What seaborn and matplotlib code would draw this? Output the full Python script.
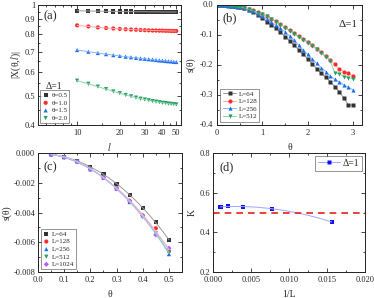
import numpy as np
import pandas as pd
import matplotlib
matplotlib.use("Agg")
import matplotlib.pyplot as plt
from matplotlib.ticker import FixedLocator, NullFormatter, FixedFormatter, MultipleLocator, FuncFormatter
from matplotlib.lines import Line2D
import seaborn as sns

sns.set_theme(style="ticks")
plt.rcParams['font.family'] = ['Liberation Serif', 'DejaVu Serif']
plt.rcParams['mathtext.fontset'] = 'stix'

# ---------------- data ----------------
# panel (a)
l_vals = [10, 12, 14, 16, 18, 20, 22, 24, 26, 28, 30, 32, 34, 36, 38, 40, 42, 44, 46, 48, 50]
x_t05 = [0.957, 0.955, 0.954, 0.953, 0.952, 0.952, 0.951, 0.951, 0.950, 0.950, 0.950,
         0.949, 0.949, 0.949, 0.949, 0.948, 0.948, 0.948, 0.948, 0.948, 0.948]
x_t10 = [0.856, 0.849, 0.843, 0.839, 0.836, 0.833, 0.831, 0.829, 0.828, 0.826, 0.825,
         0.824, 0.823, 0.823, 0.822, 0.822, 0.821, 0.821, 0.820, 0.820, 0.820]
x_t15 = [0.709, 0.700, 0.693, 0.687, 0.682, 0.678, 0.674, 0.671, 0.668, 0.665, 0.663,
         0.661, 0.659, 0.657, 0.655, 0.654, 0.652, 0.651, 0.650, 0.648, 0.647]
x_t20 = [0.561, 0.548, 0.536, 0.526, 0.517, 0.510, 0.503, 0.498, 0.493, 0.489, 0.486,
         0.483, 0.480, 0.478, 0.476, 0.474, 0.473, 0.471, 0.470, 0.469, 0.468]
a_labels = ["θ=0.5", "θ=1.0", "θ=1.5", "θ=2.0"]

# panel (b)
theta_b = [0.0, 0.05, 0.1, 0.15, 0.2, 0.25, 0.3, 0.35, 0.4, 0.45, 0.5, 0.6, 0.7, 0.8, 0.9, 1.0,
           1.1, 1.2, 1.3, 1.4, 1.5, 1.6, 1.7, 1.8, 1.9, 2.0, 2.1, 2.2, 2.3, 2.4, 2.5,
           2.6, 2.7, 2.8, 2.9, 3.0]
s_L64 = [0.0, -0.0001, -0.0002, -0.0005, -0.0009, -0.0014, -0.002, -0.0028, -0.0036, -0.0046, -0.0058,
         -0.010, -0.016, -0.024, -0.033, -0.043, -0.055, -0.066, -0.078, -0.091, -0.105,
         -0.119, -0.134, -0.149, -0.164, -0.180, -0.196, -0.212, -0.228, -0.241, -0.255,
         -0.272, -0.290, -0.310, -0.333, -0.334]
s_L128 = [0.0, -0.0001, -0.0003, -0.0006, -0.0011, -0.0016, -0.0024, -0.0032, -0.0042, -0.0051, -0.0066,
          -0.009, -0.013, -0.018, -0.024, -0.030, -0.037, -0.045, -0.054, -0.064, -0.074,
          -0.084, -0.093, -0.103, -0.113, -0.122, -0.133, -0.145, -0.158, -0.170, -0.183,
          -0.198, -0.214, -0.222, -0.228, -0.237]
s_L256 = [0.0, -0.0001, -0.0003, -0.0006, -0.0011, -0.0017, -0.0024, -0.0033, -0.0042, -0.0054, -0.0068,
          -0.010, -0.015, -0.021, -0.029, -0.038, -0.047, -0.057, -0.067, -0.078, -0.089,
          -0.103, -0.117, -0.133, -0.150, -0.164, -0.180, -0.194, -0.209, -0.222, -0.236,
          -0.248, -0.256, -0.267, -0.274, -0.283]
s_L512 = [0.0, -0.0001, -0.0003, -0.0006, -0.0011, -0.0016, -0.0024, -0.0033, -0.0043, -0.0054, -0.0067,
          -0.009, -0.013, -0.019, -0.025, -0.031, -0.038, -0.046, -0.055, -0.065, -0.075,
          -0.086, -0.096, -0.106, -0.116, -0.125, -0.136, -0.148, -0.160, -0.172, -0.186,
          -0.226, -0.229, -0.239, -0.242, -0.246]
b_labels = ["L=64", "L=128", "L=256", "L=512"]
b_yticks = [-0.4, -0.3, -0.2, -0.1, 0.0]
b_yticklabels = ["-0.4", "-0.3", "-0.2", "-0.1", "0.0"]

# panel (c)
theta_c = [0.05, 0.1, 0.15, 0.2, 0.25, 0.3, 0.35, 0.4, 0.45, 0.5]
c_L64 = [-0.00009, -0.00027, -0.00052, -0.00094, -0.00143, -0.00208, -0.00282, -0.00368, -0.00466, -0.00585]
c_L128 = [-0.0001, -0.00028, -0.00057, -0.00108, -0.00163, -0.00237, -0.00323, -0.00421, -0.00506, -0.0066]
c_L256 = [-0.0001, -0.00028, -0.00058, -0.0011, -0.00167, -0.0024, -0.0033, -0.0042, -0.0054, -0.0068]
c_L512 = [-0.0001, -0.00028, -0.00058, -0.0011, -0.00166, -0.0024, -0.0033, -0.0043, -0.0054, -0.0067]
c_L1024 = [-0.0001, -0.00028, -0.00058, -0.0011, -0.00165, -0.0024, -0.0032, -0.0042, -0.0055, -0.0064]
c_labels = ["L=64", "L=128", "L=256", "L=512", "L=1024"]

# panel (d)
inv_L = [1/1024, 1/512, 1/256, 1/128, 1/64]
K_vals = [0.528, 0.531, 0.529, 0.519, 0.452]
K_ref = 0.5

# ---------------- style ----------------
cols = ['#333333', '#ff2a2a', '#1a6ef0', '#22a060', '#b060ff']
lcols = ['#9a9a9a', '#ffaaaa', '#88b4f8', '#8fd4ad', '#d8b0ff']
marks = ['s', 'o', '^', 'v', 'D']
FS = 6

W, H = 374, 298
fig = plt.figure(figsize=(W/100, H/100), dpi=100)

def pos(l, r, t, b):
    return [l/W, 1-b/H, (r-l)/W, (b-t)/H]

axa = fig.add_axes(pos(38, 181, 5, 125))
axb = fig.add_axes(pos(217, 362, 5, 125))
axc = fig.add_axes(pos(38, 182, 153, 272))
axd = fig.add_axes(pos(213, 365, 153, 272))

def style(ax):
    ax.tick_params(which='both', direction='in', top=True, right=True, labelsize=FS,
                   width=0.6)
    ax.tick_params(axis='x', which='major', pad=3)
    ax.tick_params(axis='y', which='major', pad=2)
    ax.tick_params(which='major', length=3)
    ax.tick_params(which='minor', length=1.6)
    for s in ax.spines.values():
        s.set_linewidth(0.7)
        s.set_color('#222222')

def box_legend(lg):
    lg.get_frame().set_linewidth(0.5)
    lg.get_frame().set_edgecolor('#444444')

# ---- (a)
dfa = pd.DataFrame({'l': l_vals * 4,
                    'X': x_t05 + x_t10 + x_t15 + x_t20,
                    'lab': sum([[lab] * len(l_vals) for lab in a_labels], [])})
for i, lab in enumerate(a_labels):
    d = dfa[dfa['lab'] == lab]
    sns.lineplot(data=d, x='l', y='X', ax=axa, color=lcols[i], lw=0.7, legend=False)
    sns.scatterplot(data=d, x='l', y='X', ax=axa, color=cols[i], marker=marks[i], s=9,
                    edgecolor='none', label=lab, legend=False)
axa.set_xscale('log')
axa.set_yscale('log')
axa.set_xlim(5.3, 54)
axa.set_ylim(0.4, 1.0)
axa.xaxis.set_major_locator(FixedLocator([10, 20, 30, 40, 50]))
axa.xaxis.set_major_formatter(FixedFormatter(['10', '20', '30', '40', '50']))
axa.xaxis.set_minor_locator(FixedLocator([6, 7, 8, 9, 15, 25, 35, 45]))
axa.xaxis.set_minor_formatter(NullFormatter())
yt = [0.4, 0.5, 0.6, 0.7, 0.8, 0.9, 1.0]
axa.yaxis.set_major_locator(FixedLocator(yt))
axa.yaxis.set_major_formatter(FixedFormatter(['0.4', '0.5', '0.6', '0.7', '0.8', '0.9', '1']))
axa.yaxis.set_minor_locator(FixedLocator([0.45, 0.55, 0.65, 0.75, 0.85, 0.95]))
axa.yaxis.set_minor_formatter(NullFormatter())
axa.set_xlabel('$l$', fontsize=FS + 1, labelpad=3)
axa.set_ylabel('|X(θ,$l$)|', fontsize=FS + 1, labelpad=1)
axa.text(0.04, 0.96, '(a)', transform=axa.transAxes, fontsize=9, va='top')
axa.text(0.05, 0.30, 'Δ=1', transform=axa.transAxes, fontsize=FS + 1)
h, lb = axa.get_legend_handles_labels()
lg = axa.legend(h, lb, loc='lower left', fontsize=5, frameon=True, fancybox=False,
                handlelength=1.0, handletextpad=0.3, borderpad=0.3,
                labelspacing=0.25, borderaxespad=0.3)
box_legend(lg)
style(axa)

# ---- (b)
sb = [s_L64, s_L128, s_L256, s_L512]
for i, lab in enumerate(b_labels):
    d = pd.DataFrame({'t': theta_b, 's': sb[i]})
    sns.lineplot(data=d, x='t', y='s', ax=axb, color=lcols[i], lw=0.7, marker=marks[i],
                 markersize=3, markerfacecolor=cols[i], markeredgecolor='none', label=lab)
axb.set_xlim(0, 3.2)
axb.set_ylim(-0.4, 0.0)
axb.xaxis.set_major_locator(MultipleLocator(1))
axb.xaxis.set_minor_locator(MultipleLocator(0.5))
axb.yaxis.set_major_locator(FixedLocator(b_yticks))
axb.yaxis.set_minor_locator(MultipleLocator(0.05))
axb.set_xlabel('θ', fontsize=FS + 1, labelpad=4)
axb.set_ylabel('s(θ)', fontsize=FS + 1)
axb.text(0.04, 0.94, '(b)', transform=axb.transAxes, fontsize=9, va='top')
axb.text(0.84, 0.82, 'Δ=1', transform=axb.transAxes, fontsize=8)
lg = axb.legend(loc='lower left', fontsize=5, frameon=True, fancybox=False,
                handlelength=2.0, handletextpad=0.3, borderpad=0.3,
                labelspacing=0.25, borderaxespad=0.5)
box_legend(lg)
style(axb)
axb.tick_params(axis='y', labelleft=False)
for v, lab in zip(b_yticks, b_yticklabels):
    axb.text(-0.025, v, lab, transform=axb.get_yaxis_transform(), ha='right', va='center',
             fontsize=FS, color='#262626', clip_on=False)
axb.yaxis.set_label_coords(-0.15, 0.5)

# ---- (c)
sc = [c_L64, c_L128, c_L256, c_L512, c_L1024]
tt = np.linspace(0.05, 0.5, 60)
for i, lab in enumerate(c_labels):
    coef = np.polyfit(theta_c, sc[i], 3)
    sns.lineplot(x=tt, y=np.polyval(coef, tt), ax=axc, color=lcols[i], lw=0.7, legend=False)
    sns.scatterplot(x=theta_c, y=sc[i], ax=axc, color=cols[i], marker=marks[i],
                    s=9 if marks[i] != 'D' else 7, edgecolor='none', label=lab, legend=False)
axc.set_xlim(0, 0.55)
axc.set_ylim(-0.008, 0.0)
axc.xaxis.set_major_locator(MultipleLocator(0.1))
axc.xaxis.set_minor_locator(MultipleLocator(0.05))
axc.yaxis.set_major_locator(MultipleLocator(0.002))
axc.yaxis.set_minor_locator(MultipleLocator(0.001))
axc.xaxis.set_major_formatter(FuncFormatter(lambda v, p: f'{v:.1f}'))
axc.yaxis.set_major_formatter(FuncFormatter(lambda v, p: f'{v:.3f}'))
axc.set_xlabel('θ', fontsize=FS + 1, labelpad=4)
axc.set_ylabel('s(θ)', fontsize=FS + 1, labelpad=1)
axc.text(0.04, 0.93, '(c)', transform=axc.transAxes, fontsize=9, va='top')
h, lb = axc.get_legend_handles_labels()
lg = axc.legend(h, lb, loc='lower left', fontsize=5, frameon=True, fancybox=False,
                handlelength=1.0, handletextpad=0.3, borderpad=0.3,
                labelspacing=0.25, borderaxespad=0.4)
box_legend(lg)
style(axc)

# ---- (d)
dd = pd.DataFrame({'x': inv_L, 'K': K_vals})
xs = np.linspace(min(inv_L), max(inv_L), 80)
coef = np.polyfit(inv_L, K_vals, 2)
sns.lineplot(x=xs, y=np.polyval(coef, xs), ax=axd, color='#9fa6ff', lw=0.7, legend=False)
sns.scatterplot(data=dd, x='x', y='K', ax=axd, color='#1010f0', marker='s', s=9,
                edgecolor='none', legend=False)
axd.axhline(K_ref, color='#e8201a', lw=1.2, ls=(0, (4, 3)))
hd = Line2D([], [], color='#9fa6ff', lw=0.7, marker='s', markersize=3,
            markerfacecolor='#1010f0', markeredgecolor='none')
lg = axd.legend([hd], ['Δ=1'], loc='upper right', fontsize=FS + 1, frameon=True, fancybox=False,
                handlelength=2.2, handletextpad=0.3, borderpad=0.3, borderaxespad=0.3)
box_legend(lg)
axd.set_xlim(0, 0.02)
axd.set_ylim(0.2, 0.8)
axd.xaxis.set_major_locator(MultipleLocator(0.005))
axd.xaxis.set_minor_locator(MultipleLocator(0.0025))
axd.yaxis.set_major_locator(MultipleLocator(0.2))
axd.yaxis.set_minor_locator(MultipleLocator(0.1))
axd.xaxis.set_major_formatter(FuncFormatter(lambda v, p: f'{v:.3f}'))
axd.yaxis.set_major_formatter(FuncFormatter(lambda v, p: f'{v:.1f}'))
axd.set_xlabel('1/L', fontsize=FS + 1, labelpad=4)
axd.set_ylabel('K', fontsize=FS + 1, labelpad=2)
axd.text(0.04, 0.93, '(d)', transform=axd.transAxes, fontsize=9, va='top')
style(axd)

fig.savefig('out.png', dpi=100)
